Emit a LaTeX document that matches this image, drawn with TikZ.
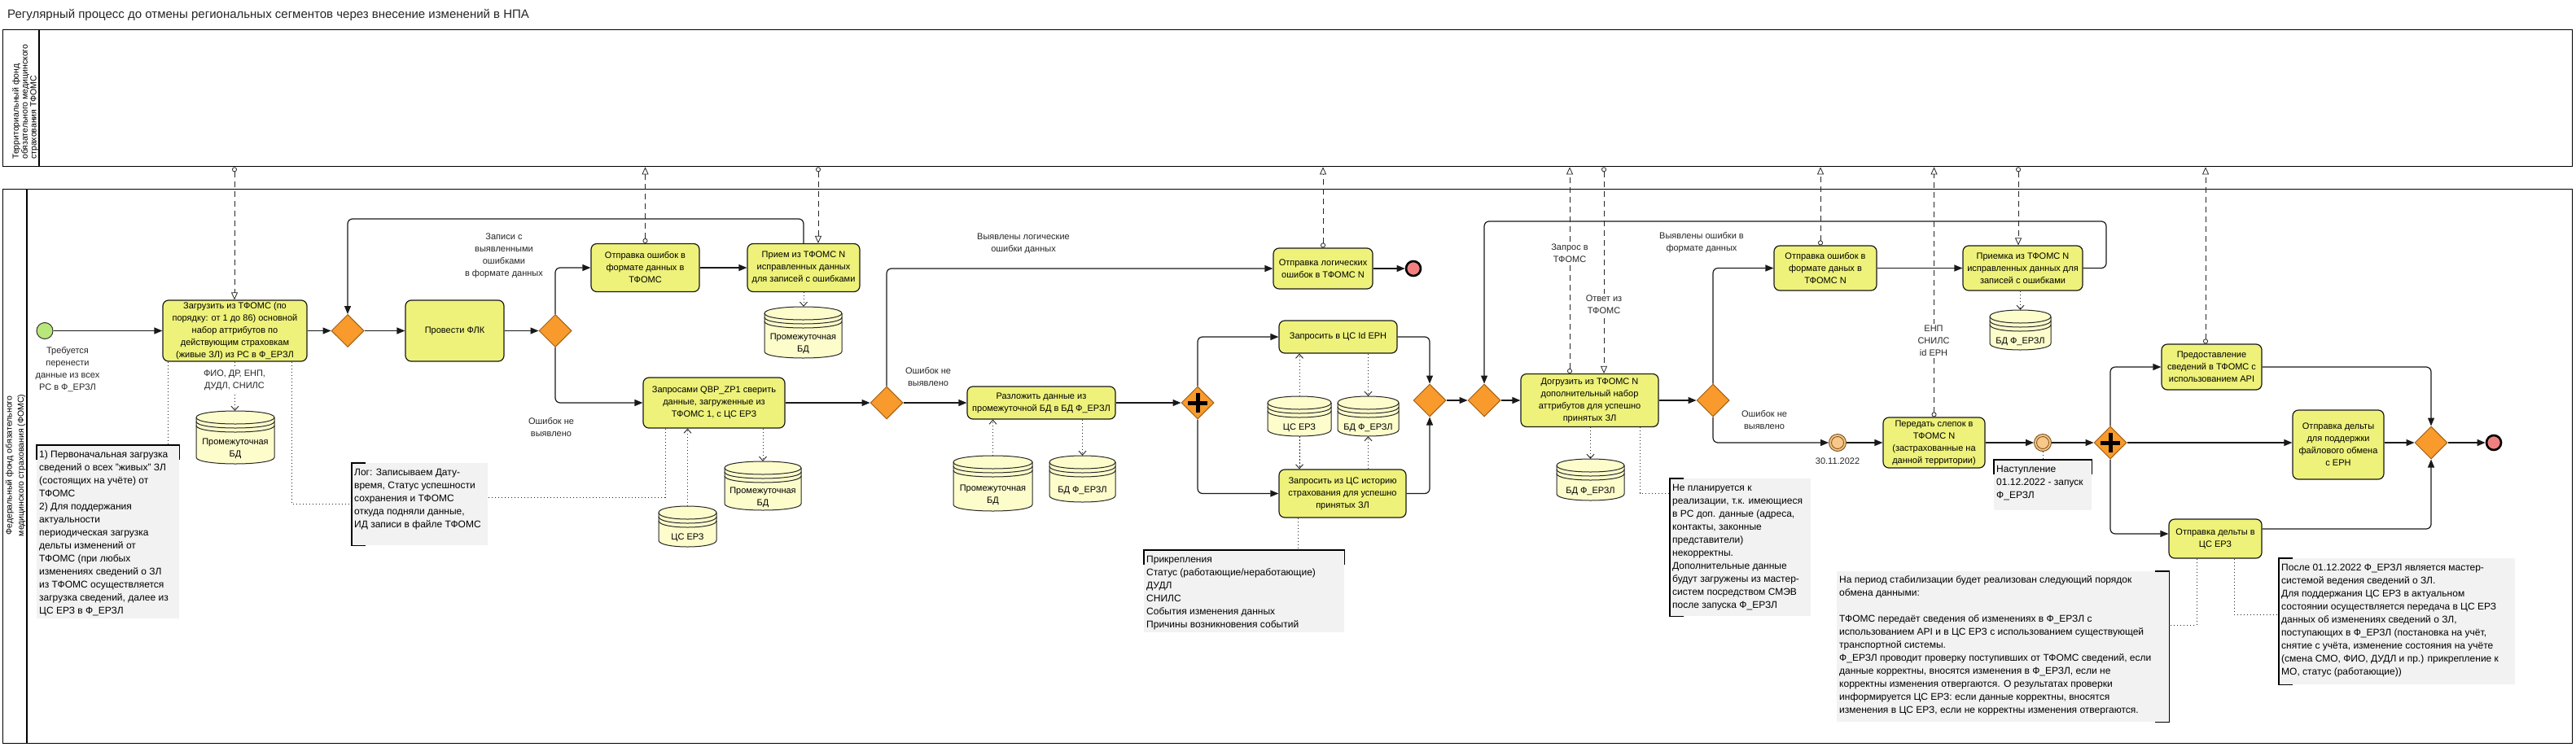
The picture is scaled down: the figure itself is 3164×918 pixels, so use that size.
\documentclass[tikz,border=0pt]{standalone}
\usepackage{fontspec}
\setmainfont{Liberation Sans}
\usetikzlibrary{shapes.geometric,arrows.meta}
\definecolor{taskY}{RGB}{238,242,122}
\definecolor{gwO}{RGB}{248,154,44}
\definecolor{gwB}{RGB}{160,95,20}
\definecolor{dsY}{RGB}{253,253,204}
\definecolor{annG}{RGB}{242,242,242}
\definecolor{startG}{RGB}{184,231,124}
\definecolor{endR}{RGB}{240,128,128}
\definecolor{ieO}{RGB}{247,200,138}
\definecolor{ieB}{RGB}{130,85,30}
\definecolor{lineC}{RGB}{25,25,25}
\newcommand\tskfont{\fontsize{11}{15}\selectfont}
\newcommand\annfont{\fontsize{12}{16}\selectfont}
\newcommand\hdrfont{\fontsize{10.5}{11.5}\selectfont}
\newcommand\hdrfontb{\fontsize{10.5}{14.5}\selectfont}
\newcommand\annstrut{\rule{0pt}{12pt}}
\newcommand\dstore[6]{%
  \pgfmathsetmacro\dsL{#2}%
  \pgfmathsetmacro\dsR{#2+#4}%
  \pgfmathsetmacro\dsT{#3+8}%
  \pgfmathsetmacro\dsB{#3+#5-8}%
  \pgfmathsetmacro\dsC{#2+#4/2}%
  \pgfmathsetmacro\dsM{#3+#5/2}%
  \pgfmathsetmacro\dsY{(#3+26+#3+#5)/2+1}%
  \filldraw[dsbody] (\dsL,\dsT) -- (\dsL,\dsB) .. controls (\dsL,\dsB+10.67) and (\dsR,\dsB+10.67) .. (\dsR,\dsB) -- (\dsR,\dsT) .. controls (\dsR,\dsT-10.67) and (\dsL,\dsT-10.67) .. (\dsL,\dsT) -- cycle;
  \draw[dsline] (\dsL,\dsT) .. controls (\dsL,\dsT+10.67) and (\dsR,\dsT+10.67) .. (\dsR,\dsT);
  \draw[dsline] (\dsL,\dsT+5) .. controls (\dsL,\dsT+15.67) and (\dsR,\dsT+15.67) .. (\dsR,\dsT+5);
  \draw[dsline] (\dsL,\dsT+10) .. controls (\dsL,\dsT+20.67) and (\dsR,\dsT+20.67) .. (\dsR,\dsT+10);
  \node[inner sep=0pt, minimum width=#4pt, minimum height=#5pt] (#1) at (\dsC,\dsM) {};
  \node[dstext] (#1t) at (\dsC,\dsY) {#6};
}
\begin{document}
\begin{tikzpicture}[x=1pt,y=-1pt,
  task/.style={draw=lineC, line width=1.2pt, rounded corners=7pt, fill=taskY, align=center, inner sep=0pt, font=\tskfont},
  gw/.style={diamond, draw=gwB, fill=gwO, line width=1pt, minimum width=40pt, minimum height=40pt, inner sep=0pt},
  pcross/.style={line width=5pt, black},
  startev/.style={circle, draw=black!80, line width=1pt, fill=startG, minimum size=20pt, inner sep=0pt},
  endev/.style={circle, draw=black, line width=2.6pt, fill=endR, minimum size=18pt, inner sep=0pt},
  iev/.style={circle, draw=ieB, line width=1pt, fill=ieO, minimum size=21pt, inner sep=0pt},
  seq/.style={draw=lineC, line width=1.2pt, rounded corners=6pt, -{Triangle[length=10pt,width=8pt]}},
  msg/.style={draw=black!85, line width=0.8pt, dash pattern=on 7pt off 5pt, {Circle[open,length=6pt,width=6pt]}-{Triangle[open,length=9pt,width=8pt]}},
  assoc/.style={draw=black!85, line width=0.9pt, dash pattern=on 1.3pt off 2.7pt, -{Straight Barb[length=5pt,width=9pt]}},
  annl/.style={draw=black!85, line width=0.9pt, dash pattern=on 1.3pt off 2.7pt},
  annbg/.style={fill=annG, inner sep=0pt},
  annb/.style={draw=black, line width=1.2pt},
  anntext/.style={font=\annfont, align=left, inner sep=0pt, anchor=north west},
  hdr/.style={rotate=90, anchor=west, font=\hdrfont, inner sep=0pt},
  lbl/.style={font=\tskfont, align=center, inner sep=1pt, text=black!85},
  lblw/.style={font=\tskfont, align=center, inner sep=2pt, fill=white, text=black!85},
  dsbody/.style={draw=black!85, line width=1pt, fill=dsY},
  dsline/.style={draw=black!85, line width=1pt},
  dstext/.style={font=\tskfont, align=center, inner sep=0pt},
  pool/.style={draw=black, line width=1.3pt, inner sep=0pt, anchor=north west}]
\useasboundingbox (0,0) rectangle (3164,918);
\fill[white] (0,0) rectangle (3164,918);

% title
\node[anchor=west, inner sep=0pt, font=\fontsize{15}{18}\selectfont, text=black!85] (title) at (9,18) {Регулярный процесс до отмены региональных сегментов через внесение изменений в НПА};

% pools
\node[pool, minimum width=3156pt, minimum height=168pt] (pool1) at (3,36) {};
\draw[draw=black, line width=1.3pt] ([xshift=45pt]pool1.north west) -- ([xshift=45pt]pool1.south west);
\node[hdr] (h1a) at (20,196) {Территориальный фонд};
\node[hdr] (h1b) at (31,196) {обязательного медицинского};
\node[hdr] (h1c) at (42,196) {страхования ТФОМС};
\node[pool, minimum width=3156pt, minimum height=681pt] (pool2) at (3,232) {};
\draw[draw=black, line width=1.3pt] ([xshift=30pt]pool2.north west) -- ([xshift=30pt]pool2.south west);
\node[rotate=90, font=\hdrfontb, align=center, inner sep=0pt] (h2) at (19,572) {Федеральный фонд обязательного\\медицинского страхования (ФОМС)};

% annotations (backgrounds)
\node[annbg, minimum width=175pt, minimum height=213pt, anchor=north west] (a1) at (45,547) {};
\node[annbg, minimum width=167pt, minimum height=101pt, anchor=north west] (a2) at (432,569) {};
\node[annbg, minimum width=246pt, minimum height=101pt, anchor=north west] (a3) at (1405,676) {};
\node[annbg, minimum width=173pt, minimum height=169pt, anchor=north west] (a4) at (2051,588) {};
\node[annbg, minimum width=120pt, minimum height=62pt, anchor=north west] (a5) at (2449,565) {};
\node[annbg, minimum width=408pt, minimum height=185pt, anchor=north west] (a6) at (2256,702) {};
\node[annbg, minimum width=290pt, minimum height=155pt, anchor=north west] (a7) at (2799,686) {};
\draw[annb] ([yshift=-18pt]a1.north west) -- (a1.north west) -- (a1.north east) -- ([yshift=-18pt]a1.north east);
\draw[annb] ([xshift=17pt]a2.north west) -- (a2.north west) -- (a2.south west) -- ([xshift=17pt]a2.south west);
\draw[annb] ([yshift=-18pt]a3.north west) -- (a3.north west) -- (a3.north east) -- ([yshift=-18pt]a3.north east);
\draw[annb] ([xshift=17pt]a4.north west) -- (a4.north west) -- (a4.south west) -- ([xshift=17pt]a4.south west);
\draw[annb] ([yshift=-18pt]a5.north west) -- (a5.north west) -- (a5.north east) -- ([yshift=-18pt]a5.north east);
\draw[annb] ([xshift=-17pt]a6.north east) -- (a6.north east) -- (a6.south east) -- ([xshift=-17pt]a6.south east);
\draw[annb] ([xshift=17pt]a7.north west) -- (a7.north west) -- (a7.south west) -- ([xshift=17pt]a7.south west);
\node[anntext] (a1t) at (48,550) {\annstrut 1) Первоначальная загрузка\\сведений о всех  "живых" ЗЛ\\(состоящих на учёте) от\\ТФОМС\\2) Для поддержания\\актуальности\\периодическая загрузка\\дельты изменений от\\ТФОМС (при любых\\изменениях сведений о ЗЛ\\из ТФОМС осуществляется\\загрузка сведений, далее из\\ЦС ЕРЗ в Ф\_ЕРЗЛ};
\node[anntext] (a2t) at (435,572) {\annstrut Лог: Записываем Дату-\\время, Статус успешности\\сохранения и ТФОМС\\откуда подняли данные,\\ИД записи в файле ТФОМС};
\node[anntext] (a3t) at (1408,679) {\annstrut Прикрепления\\Статус (работающие/неработающие)\\ДУДЛ\\СНИЛС\\События изменения данных\\Причины возникновения событий};
\node[anntext] (a4t) at (2054,591) {\annstrut Не планируется к\\реализации, т.к. имеющиеся\\в РС доп. данные (адреса,\\контакты, законные\\представители)\\некорректны.\\Дополнительные данные\\будут загружены из мастер-\\систем посредством СМЭВ\\после запуска Ф\_ЕРЗЛ};
\node[anntext] (a5t) at (2452,568) {\annstrut Наступление\\01.12.2022 - запуск\\Ф\_ЕРЗЛ};
\node[anntext] (a6t) at (2259,704) {\annstrut На период стабилизации будет реализован следующий порядок\\обмена данными:\\[16pt]ТФОМС передаёт сведения об изменениях в  Ф\_ЕРЗЛ с\\использованием API и в  ЦС ЕРЗ с использованием существующей\\транспортной системы.\\Ф\_ЕРЗЛ проводит проверку поступивших от ТФОМС сведений, если\\данные корректны, вносятся изменения в Ф\_ЕРЗЛ, если не\\корректны изменения отвергаются. О результатах проверки\\информируется ЦС ЕРЗ: если данные корректны, вносятся\\изменения в ЦС ЕРЗ, если не корректны изменения отвергаются.};
\node[anntext] (a7t) at (2802,689) {\annstrut После 01.12.2022 Ф\_ЕРЗЛ является мастер-\\системой ведения сведений о ЗЛ.\\Для поддержания ЦС ЕРЗ в актуальном\\состоянии осуществляется передача в ЦС ЕРЗ\\данных об изменениях сведений о ЗЛ,\\поступающих в Ф\_ЕРЗЛ (постановка на учёт,\\снятие с учёта, изменение состояния на учёте\\(смена СМО, ФИО, ДУДЛ и пр.) прикрепление к\\МО, статус (работающие))};

% tasks
\node[task, minimum width=177pt, minimum height=75pt] (t1) at (288.5,406.5) {Загрузить из ТФОМС (по\\порядку: от 1 до 86) основной\\набор аттрибутов по\\действующим страховкам\\(живые ЗЛ) из РС в Ф\_ЕРЗЛ};
\node[task, minimum width=121pt, minimum height=75pt] (tflk) at (558.5,406.5) {Провести ФЛК};
\node[task, minimum width=133pt, minimum height=59pt] (terr1) at (792.5,329) {Отправка ошибок в\\формате данных в\\ТФОМС};
\node[task, minimum width=138pt, minimum height=59pt] (trcv1) at (987,329) {Прием из ТФОМС N\\исправленных данных\\для записей с ошибками};
\node[task, minimum width=174pt, minimum height=62pt] (tqbp) at (877,495) {Запросами QBP\_ZP1 сверить\\данные, загруженные из\\ТФОМС 1, с ЦС ЕРЗ};
\node[task, minimum width=122pt, minimum height=50pt] (tlog) at (1625,330) {Отправка логических\\ошибок в ТФОМС N};
\node[task, minimum width=182pt, minimum height=40pt] (trazl) at (1279,495) {Разложить данные из\\промежуточной БД в БД Ф\_ЕРЗЛ};
\node[task, minimum width=145pt, minimum height=40pt] (tid) at (1643.5,414) {Запросить в ЦС Id ЕРН};
\node[task, minimum width=156pt, minimum height=59pt] (thist) at (1649,606.5) {Запросить из ЦС историю\\страхования для успешно\\принятых ЗЛ};
\node[task, minimum width=169pt, minimum height=65pt] (tdogr) at (1952.5,492) {Догрузить из ТФОМС N\\дополнительный набор\\аттрибутов для успешно\\принятых ЗЛ};
\node[task, minimum width=126pt, minimum height=55pt] (terr2) at (2242,329.5) {Отправка ошибок в\\формате даных в\\ТФОМС N};
\node[task, minimum width=147pt, minimum height=55pt] (tpriem) at (2484.5,329.5) {Приемка из ТФОМС N\\исправленных данных для\\записей с ошибками};
\node[task, minimum width=125pt, minimum height=62pt] (tslep) at (2375.5,544) {Передать слепок в\\ТФОМС N\\(застрахованные на\\данной территории)};
\node[task, minimum width=123pt, minimum height=56pt] (tapi) at (2716.5,451) {Предоставление\\сведений в ТФОМС с\\использованием API};
\node[task, minimum width=112pt, minimum height=85pt] (tern) at (2872,546.5) {Отправка дельты\\для поддержки\\файлового обмена\\с ЕРН};
\node[task, minimum width=114pt, minimum height=48pt] (tcserz) at (2721,662) {Отправка дельты в\\ЦС ЕРЗ};

% gateways
\node[gw] (g1) at (427,406.5) {};
\node[gw] (g2) at (682,406.5) {};
\node[gw] (g3) at (1089,495) {};
\node[gw] (pg1) at (1471,495) {};
\node[gw] (g4) at (1756,492) {};
\node[gw] (g5) at (1823,492) {};
\node[gw] (g6) at (2104,492) {};
\node[gw] (pg2) at (2592,544) {};
\node[gw] (g7) at (2986,544) {};
\draw[pcross] (pg1.center) ++(-12,0) -- ++(24,0);
\draw[pcross] (pg1.center) ++(0,-12) -- ++(0,24);
\draw[pcross] (pg2.center) ++(-12,0) -- ++(24,0);
\draw[pcross] (pg2.center) ++(0,-12) -- ++(0,24);

% events
\node[startev] (start) at (55,406.5) {};
\node[endev] (end1) at (1736,330) {};
\node[iev] (ie1) at (2257,544) {};
\draw[ieB, line width=0.9pt] (ie1.center) circle[radius=7.5];
\node[iev] (ie2) at (2509,544) {};
\draw[ieB, line width=0.9pt] (ie2.center) circle[radius=7.5];
\node[endev] (end2) at (3063,544) {};

% data stores
\dstore{ds1}{241}{505}{96}{65}{Промежуточная\\БД}
\dstore{ds2}{939}{377}{95}{63}{Промежуточная\\БД}
\dstore{ds3}{809}{622}{71}{50}{ЦС ЕРЗ}
\dstore{ds4}{890}{567}{94}{60}{Промежуточная\\БД}
\dstore{ds5}{1171}{560}{97}{68}{Промежуточная\\БД}
\dstore{ds6}{1289}{560}{81}{57}{БД Ф\_ЕРЗЛ}
\dstore{ds7}{1557}{487}{78}{49}{ЦС ЕРЗ}
\dstore{ds8}{1643}{487}{75}{49}{БД Ф\_ЕРЗЛ}
\dstore{ds9}{1912}{564}{83}{51}{БД Ф\_ЕРЗЛ}
\dstore{ds10}{2444}{381}{75}{49}{БД Ф\_ЕРЗЛ}

% coordinates
\coordinate (L1) at (0,269);
\coordinate (R2) at (2587,272);
\coordinate (m1) at (288,0);
\coordinate (m3) at (1005,0);
\coordinate (m5) at (1928,0);
\coordinate (m6) at (1970,0);
\coordinate (m7) at (2236,0);
\coordinate (m8) at (2479,0);
\coordinate (m10) at (2709,0);
\coordinate (c1) at (206,0);
\coordinate (c2) at (358,619);
\coordinate (c3) at (817,611);
\coordinate (c4) at (1594,0);
\coordinate (c5) at (2014,606);
\coordinate (c6) at (2698,768);
\coordinate (c7) at (2744,755);

% sequence flows
\draw[seq] (start) -- (t1);
\draw[seq] (t1) -- (g1);
\draw[seq] (g1) -- (tflk);
\draw[seq] (tflk) -- (g2);
\draw[seq] (g2.north) |- (terr1.west);
\draw[seq] (terr1) -- (trcv1);
\draw[seq] (trcv1.north) |- (g1.north |- L1) -- (g1.north);
\draw[seq] (g2.south) |- (tqbp.west);
\draw[seq] (tqbp) -- (g3);
\draw[seq] (g3.north) |- (tlog.west);
\draw[seq] (tlog) -- (end1);
\draw[seq] (g3) -- (trazl);
\draw[seq] (trazl) -- (pg1);
\draw[seq] (pg1.north) |- (tid.west);
\draw[seq] (pg1.south) |- (thist.west);
\draw[seq] (tid.east) -| (g4.north);
\draw[seq] (thist.east) -| (g4.south);
\draw[seq] (g4) -- (g5);
\draw[seq] (g5) -- (tdogr);
\draw[seq] (tdogr) -- (g6);
\draw[seq] (g6.north) |- (terr2.west);
\draw[seq] (terr2) -- (tpriem);
\draw[seq] (tpriem.east) -| (R2) -| (g5.north);
\draw[seq] (g6.south) |- (ie1.west);
\draw[seq] (ie1) -- (tslep);
\draw[seq] (tslep) -- (ie2);
\draw[seq] (ie2) -- (pg2);
\draw[seq] (pg2.north) |- (tapi.west);
\draw[seq] (pg2.east) -- (pg2.east -| tern.west);
\draw[seq] (pg2.south) |- ([yshift=6pt]tcserz.west);
\draw[seq] (tapi.east) -| (g7.north);
\draw[seq] (g7.west -| tern.east) -- (g7.west);
\draw[seq] ([yshift=12pt]tcserz.east) -| (g7.south);
\draw[seq] (g7) -- (end2);

% message flows
\draw[msg] (m1 |- pool1.south) -- (m1 |- t1.north);
\draw[msg] (terr1.north) -- (terr1.north |- pool1.south);
\draw[msg] (m3 |- pool1.south) -- (m3 |- trcv1.north);
\draw[msg] (tlog.north) -- (tlog.north |- pool1.south);
\draw[msg] (m5 |- tdogr.north) -- (m5 |- pool1.south);
\draw[msg] (m6 |- pool1.south) -- (m6 |- tdogr.north);
\draw[msg] (m7 |- terr2.north) -- (m7 |- pool1.south);
\draw[msg] (m8 |- pool1.south) -- (m8 |- tpriem.north);
\draw[msg] (tslep.north) -- (tslep.north |- pool1.south);
\draw[msg] (m10 |- tapi.north) -- (m10 |- pool1.south);

% data associations
\draw[assoc] (t1.south) -- (t1.south |- ds1.north);
\draw[assoc] (trcv1.south) -- (trcv1.south |- ds2.north);
\draw[assoc] (ds4.north |- tqbp.south) -- (ds4.north);
\draw[assoc] (ds3.north) -- (ds3.north |- tqbp.south);
\draw[assoc] (ds5.north) -- (ds5.north |- trazl.south);
\draw[assoc] (ds6.north |- trazl.south) -- (ds6.north);
\draw[assoc] (ds7.north) -- (ds7.north |- tid.south);
\draw[assoc] (ds7.south) -- (ds7.south |- thist.north);
\draw[assoc] (ds8.north |- tid.south) -- (ds8.north);
\draw[assoc] (ds8.south |- thist.north) -- (ds8.south);
\draw[assoc] (ds9.north |- tdogr.south) -- (ds9.north);
\draw[assoc] (ds10.north |- tpriem.south) -- (ds10.north);

% annotation associations
\draw[annl] (c1 |- t1.south) -- (c1 |- a1.north);
\draw[annl] (c2 |- t1.south) |- (a2.west |- c2);
\draw[annl] (c3 |- tqbp.south) |- (a2.east |- c3);
\draw[annl] (c4 |- thist.south) -- (c4 |- a3.north);
\draw[annl] (c5 |- tdogr.south) |- (a4.west |- c5);
\draw[annl] (ie2.south) -- (ie2.south |- a5.north);
\draw[annl] (c6 |- tcserz.south) |- (a6.east |- c6);
\draw[annl] (c7 |- tcserz.south) |- (a7.west |- c7);

% labels
\node[lbl] (lb1) at (83,454.5) {Требуется\\перенести\\данные из всех\\РС в Ф\_ЕРЗЛ};
\node[lblw] (lb2) at (288,467.5) {ФИО, ДР, ЕНП,\\ДУДЛ, СНИЛС};
\node[lbl] (lb3) at (619,314.5) {Записи с\\выявленными\\ошибками\\в формате данных};
\node[lbl] (lb4) at (677,525) {Ошибок не\\выявлено};
\node[lbl] (lb5) at (1257,299.5) {Выявлены логические\\ошибки данных};
\node[lbl] (lb6) at (1140,463.5) {Ошибок не\\выявлено};
\node[lblw] (lb7) at (1928,311.5) {Запрос в\\ТФОМС};
\node[lblw] (lb8) at (1970,374.5) {Ответ из\\ТФОМС};
\node[lbl] (lb9) at (2090,298.5) {Выявлены ошибки в\\формате данных};
\node[lbl] (lb10) at (2167,516.5) {Ошибок не\\выявлено};
\node[lbl] (lb11) at (2257,567) {30.11.2022};
\node[lblw] (lb12) at (2375,419) {ЕНП\\СНИЛС\\id ЕРН};
\end{tikzpicture}
\end{document}
